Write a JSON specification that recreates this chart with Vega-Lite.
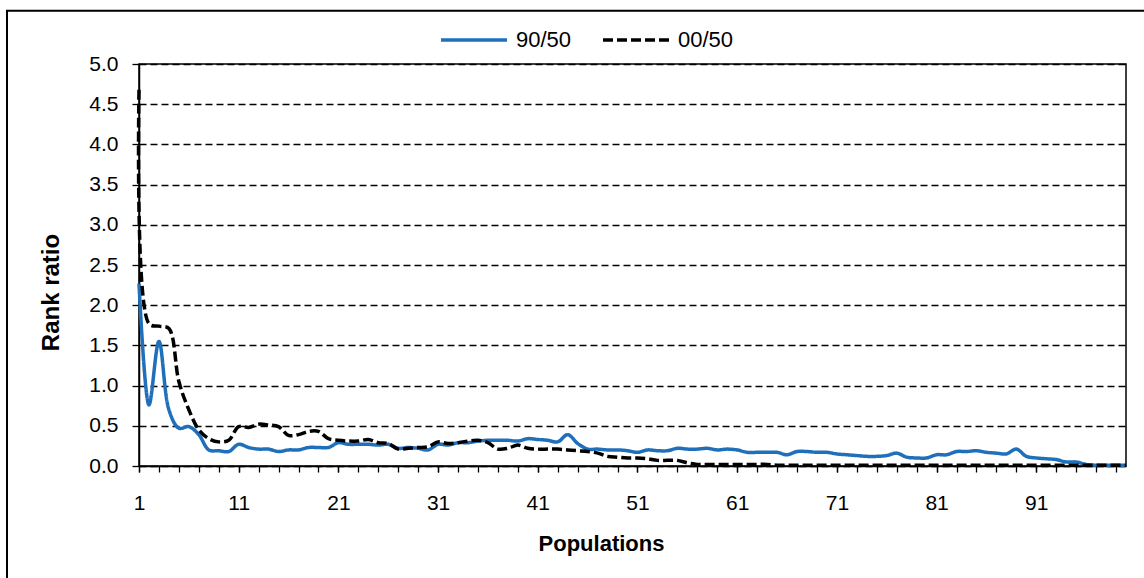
{
  "$schema": "https://vega.github.io/schema/vega-lite/v6.json",
  "width": 987,
  "height": 402,
  "autosize": {"type": "none"},
  "padding": {"left": 139, "top": 64, "right": 18, "bottom": 112},
  "background": "white",
  "config": {
    "font": "Liberation Sans",
    "view": {"stroke": "black", "strokeWidth": 1.5},
    "axis": {
      "labelFont": "Liberation Sans",
      "labelFontSize": 21,
      "labelColor": "black",
      "titleFont": "Liberation Sans",
      "titleFontSize": 22,
      "titleFontWeight": "bold",
      "titleColor": "black",
      "domainColor": "black",
      "domainWidth": 1.5,
      "tickColor": "black",
      "tickWidth": 1.3,
      "labelOverlap": false
    },
    "legend": {
      "labelFont": "Liberation Sans",
      "labelFontSize": 22,
      "labelColor": "black"
    }
  },
  "datasets": {
    "frame": [{"k": 1}]
  },
  "data": {
    "values": [
      {"p":1,"s":"90/50","r":2.27},{"p":2,"s":"90/50","r":0.76},{"p":3,"s":"90/50","r":1.55},{"p":4,"s":"90/50","r":0.70},{"p":5,"s":"90/50","r":0.47},
      {"p":6,"s":"90/50","r":0.49},{"p":7,"s":"90/50","r":0.39},{"p":8,"s":"90/50","r":0.20},{"p":9,"s":"90/50","r":0.19},{"p":10,"s":"90/50","r":0.18},
      {"p":11,"s":"90/50","r":0.27},{"p":12,"s":"90/50","r":0.23},{"p":13,"s":"90/50","r":0.21},{"p":14,"s":"90/50","r":0.21},{"p":15,"s":"90/50","r":0.18},
      {"p":16,"s":"90/50","r":0.20},{"p":17,"s":"90/50","r":0.20},{"p":18,"s":"90/50","r":0.23},{"p":19,"s":"90/50","r":0.23},{"p":20,"s":"90/50","r":0.23},
      {"p":21,"s":"90/50","r":0.29},{"p":22,"s":"90/50","r":0.27},{"p":23,"s":"90/50","r":0.27},{"p":24,"s":"90/50","r":0.27},{"p":25,"s":"90/50","r":0.26},
      {"p":26,"s":"90/50","r":0.27},{"p":27,"s":"90/50","r":0.22},{"p":28,"s":"90/50","r":0.23},{"p":29,"s":"90/50","r":0.22},{"p":30,"s":"90/50","r":0.20},
      {"p":31,"s":"90/50","r":0.27},{"p":32,"s":"90/50","r":0.26},{"p":33,"s":"90/50","r":0.29},{"p":34,"s":"90/50","r":0.29},{"p":35,"s":"90/50","r":0.31},
      {"p":36,"s":"90/50","r":0.32},{"p":37,"s":"90/50","r":0.32},{"p":38,"s":"90/50","r":0.32},{"p":39,"s":"90/50","r":0.31},{"p":40,"s":"90/50","r":0.34},
      {"p":41,"s":"90/50","r":0.33},{"p":42,"s":"90/50","r":0.32},{"p":43,"s":"90/50","r":0.30},{"p":44,"s":"90/50","r":0.39},{"p":45,"s":"90/50","r":0.28},
      {"p":46,"s":"90/50","r":0.21},{"p":47,"s":"90/50","r":0.21},{"p":48,"s":"90/50","r":0.20},{"p":49,"s":"90/50","r":0.20},{"p":50,"s":"90/50","r":0.19},
      {"p":51,"s":"90/50","r":0.17},{"p":52,"s":"90/50","r":0.20},{"p":53,"s":"90/50","r":0.19},{"p":54,"s":"90/50","r":0.19},{"p":55,"s":"90/50","r":0.22},
      {"p":56,"s":"90/50","r":0.21},{"p":57,"s":"90/50","r":0.21},{"p":58,"s":"90/50","r":0.22},{"p":59,"s":"90/50","r":0.20},{"p":60,"s":"90/50","r":0.21},
      {"p":61,"s":"90/50","r":0.20},{"p":62,"s":"90/50","r":0.17},{"p":63,"s":"90/50","r":0.17},{"p":64,"s":"90/50","r":0.17},{"p":65,"s":"90/50","r":0.17},
      {"p":66,"s":"90/50","r":0.14},{"p":67,"s":"90/50","r":0.18},{"p":68,"s":"90/50","r":0.18},{"p":69,"s":"90/50","r":0.17},{"p":70,"s":"90/50","r":0.17},
      {"p":71,"s":"90/50","r":0.15},{"p":72,"s":"90/50","r":0.14},{"p":73,"s":"90/50","r":0.13},{"p":74,"s":"90/50","r":0.12},{"p":75,"s":"90/50","r":0.12},
      {"p":76,"s":"90/50","r":0.13},{"p":77,"s":"90/50","r":0.16},{"p":78,"s":"90/50","r":0.11},{"p":79,"s":"90/50","r":0.10},{"p":80,"s":"90/50","r":0.10},
      {"p":81,"s":"90/50","r":0.14},{"p":82,"s":"90/50","r":0.14},{"p":83,"s":"90/50","r":0.18},{"p":84,"s":"90/50","r":0.18},{"p":85,"s":"90/50","r":0.19},
      {"p":86,"s":"90/50","r":0.17},{"p":87,"s":"90/50","r":0.16},{"p":88,"s":"90/50","r":0.15},{"p":89,"s":"90/50","r":0.21},{"p":90,"s":"90/50","r":0.12},
      {"p":91,"s":"90/50","r":0.10},{"p":92,"s":"90/50","r":0.09},{"p":93,"s":"90/50","r":0.08},{"p":94,"s":"90/50","r":0.05},{"p":95,"s":"90/50","r":0.05},
      {"p":96,"s":"90/50","r":0.02},{"p":97,"s":"90/50","r":0.01},{"p":98,"s":"90/50","r":0.01},{"p":99,"s":"90/50","r":0.01},{"p":100,"s":"90/50","r":0.01},
      {"p":1,"s":"00/50","r":4.68},{"p":2,"s":"00/50","r":1.77},{"p":3,"s":"00/50","r":1.74},{"p":4,"s":"00/50","r":1.71},{"p":5,"s":"00/50","r":1.05},
      {"p":6,"s":"00/50","r":0.70},{"p":7,"s":"00/50","r":0.45},{"p":8,"s":"00/50","r":0.34},{"p":9,"s":"00/50","r":0.30},{"p":10,"s":"00/50","r":0.32},
      {"p":11,"s":"00/50","r":0.49},{"p":12,"s":"00/50","r":0.48},{"p":13,"s":"00/50","r":0.52},{"p":14,"s":"00/50","r":0.51},{"p":15,"s":"00/50","r":0.49},
      {"p":16,"s":"00/50","r":0.38},{"p":17,"s":"00/50","r":0.39},{"p":18,"s":"00/50","r":0.43},{"p":19,"s":"00/50","r":0.43},{"p":20,"s":"00/50","r":0.34},
      {"p":21,"s":"00/50","r":0.32},{"p":22,"s":"00/50","r":0.31},{"p":23,"s":"00/50","r":0.31},{"p":24,"s":"00/50","r":0.33},{"p":25,"s":"00/50","r":0.29},
      {"p":26,"s":"00/50","r":0.28},{"p":27,"s":"00/50","r":0.21},{"p":28,"s":"00/50","r":0.22},{"p":29,"s":"00/50","r":0.23},{"p":30,"s":"00/50","r":0.24},
      {"p":31,"s":"00/50","r":0.30},{"p":32,"s":"00/50","r":0.28},{"p":33,"s":"00/50","r":0.29},{"p":34,"s":"00/50","r":0.31},{"p":35,"s":"00/50","r":0.32},
      {"p":36,"s":"00/50","r":0.29},{"p":37,"s":"00/50","r":0.21},{"p":38,"s":"00/50","r":0.22},{"p":39,"s":"00/50","r":0.26},{"p":40,"s":"00/50","r":0.22},
      {"p":41,"s":"00/50","r":0.21},{"p":42,"s":"00/50","r":0.21},{"p":43,"s":"00/50","r":0.21},{"p":44,"s":"00/50","r":0.20},{"p":45,"s":"00/50","r":0.19},
      {"p":46,"s":"00/50","r":0.18},{"p":47,"s":"00/50","r":0.16},{"p":48,"s":"00/50","r":0.12},{"p":49,"s":"00/50","r":0.11},{"p":50,"s":"00/50","r":0.10},
      {"p":51,"s":"00/50","r":0.10},{"p":52,"s":"00/50","r":0.09},{"p":53,"s":"00/50","r":0.07},{"p":54,"s":"00/50","r":0.07},{"p":55,"s":"00/50","r":0.07},
      {"p":56,"s":"00/50","r":0.04},{"p":57,"s":"00/50","r":0.02},{"p":58,"s":"00/50","r":0.02},{"p":59,"s":"00/50","r":0.02},{"p":60,"s":"00/50","r":0.02},
      {"p":61,"s":"00/50","r":0.02},{"p":62,"s":"00/50","r":0.02},{"p":63,"s":"00/50","r":0.02},{"p":64,"s":"00/50","r":0.02},{"p":65,"s":"00/50","r":0.01},
      {"p":66,"s":"00/50","r":0.01},{"p":67,"s":"00/50","r":0.01},{"p":68,"s":"00/50","r":0.01},{"p":69,"s":"00/50","r":0.01},{"p":70,"s":"00/50","r":0.01},
      {"p":71,"s":"00/50","r":0.01},{"p":72,"s":"00/50","r":0.01},{"p":73,"s":"00/50","r":0.01},{"p":74,"s":"00/50","r":0.01},{"p":75,"s":"00/50","r":0.01},
      {"p":76,"s":"00/50","r":0.01},{"p":77,"s":"00/50","r":0.01},{"p":78,"s":"00/50","r":0.01},{"p":79,"s":"00/50","r":0.01},{"p":80,"s":"00/50","r":0.01},
      {"p":81,"s":"00/50","r":0.01},{"p":82,"s":"00/50","r":0.01},{"p":83,"s":"00/50","r":0.01},{"p":84,"s":"00/50","r":0.01},{"p":85,"s":"00/50","r":0.01},
      {"p":86,"s":"00/50","r":0.01},{"p":87,"s":"00/50","r":0.01},{"p":88,"s":"00/50","r":0.01},{"p":89,"s":"00/50","r":0.01},{"p":90,"s":"00/50","r":0.01},
      {"p":91,"s":"00/50","r":0.01},{"p":92,"s":"00/50","r":0.01},{"p":93,"s":"00/50","r":0.01},{"p":94,"s":"00/50","r":0.01},{"p":95,"s":"00/50","r":0.01},
      {"p":96,"s":"00/50","r":0.01},{"p":97,"s":"00/50","r":0.01},{"p":98,"s":"00/50","r":0.01},{"p":99,"s":"00/50","r":0.01},{"p":100,"s":"00/50","r":0.01}
    ]
  },
  "resolve": {"axis": {"x": "independent"}},
  "layer": [
    {
      "mark": {"type": "line", "interpolate": "catmull-rom", "strokeWidth": 3.5, "strokeCap": "butt"},
      "encoding": {
        "x": {
          "field": "p", "type": "quantitative",
          "scale": {"domain": [1, 100], "nice": false, "zero": false},
          "axis": {
            "orient": "bottom",
            "title": "Populations",
            "values": [1, 11, 21, 31, 41, 51, 61, 71, 81, 91],
            "labelOverlap": false,
            "labelFlush": false,
            "grid": false,
            "tickSize": 6,
            "labelPadding": 20,
            "titleX": 462,
            "titleY": 77,
            "titleBaseline": "middle",
            "titleAnchor": "middle",
            "titleAlign": "center"
          }
        },
        "y": {
          "field": "r", "type": "quantitative",
          "scale": {"domain": [0, 5], "nice": false},
          "axis": {
            "title": "Rank ratio",
            "titleFontSize": 24,
            "values": [0, 0.5, 1, 1.5, 2, 2.5, 3, 3.5, 4, 4.5, 5],
            "format": ".1f",
            "grid": true,
            "gridColor": "black",
            "gridDash": [7, 4],
            "gridWidth": 1.3,
            "gridOpacity": 1,
            "tickSize": 7,
            "labelPadding": 14,
            "titleAngle": 270,
            "titleX": -88,
            "titleY": 228,
            "titleBaseline": "middle",
            "titleAlign": "center"
          }
        },
        "color": {
          "field": "s", "type": "nominal",
          "scale": {"domain": ["90/50", "00/50"], "range": ["#1F6FBA", "black"]},
          "legend": {
            "title": null,
            "orient": "none",
            "direction": "horizontal",
            "legendX": 300,
            "legendY": -59,
            "symbolType": "stroke",
            "symbolSize": 4356,
            "symbolStrokeWidth": 3.5,
            "labelOffset": 7,
            "columnPadding": 24
          }
        },
        "strokeDash": {
          "field": "s", "type": "nominal",
          "scale": {"domain": ["90/50", "00/50"], "range": [[1, 0], [10, 4]]},
          "legend": null
        }
      }
    },
    {
      "data": {"name": "frame"},
      "mark": {"type": "rect", "fill": null, "stroke": "black", "strokeWidth": 2, "clip": false},
      "encoding": {
        "x": {
          "datum": -12.24, "type": "quantitative",
          "axis": {
            "orient": "bottom",
            "title": null,
            "values": [1,3,5,7,9,11,13,15,17,19,21,23,25,27,29,31,33,35,37,39,41,43,45,47,49,51,53,55,57,59,61,63,65,67,69,71,73,75,77,79,81,83,85,87,89,91,93,95,97,99],
            "labels": false,
            "domain": false,
            "grid": false,
            "tickSize": 6
          }
        },
        "x2": {"datum": 140},
        "y": {"datum": 5.663},
        "y2": {"datum": -3}
      }
    }
  ]
}
